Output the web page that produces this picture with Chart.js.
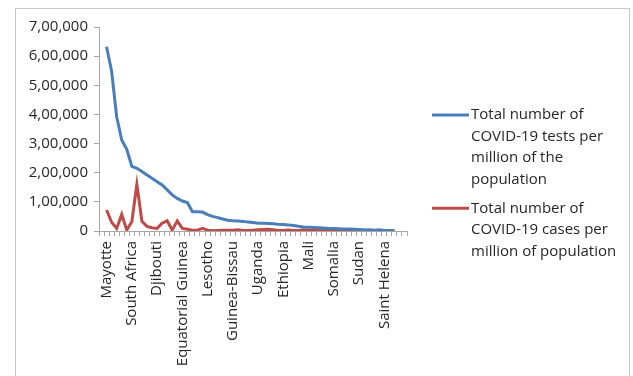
<!DOCTYPE html>
<html>
<head>
<meta charset="utf-8">
<script src="https://cdn.jsdelivr.net/npm/chart.js@4/dist/chart.umd.min.js"></script>
<style>
  html, body { margin: 0; padding: 0; background: #ffffff; overflow: hidden; }
  #wrap { position: relative; width: 633px; height: 376px; overflow: hidden; }
  #frame { position: absolute; left: 15px; top: 8px; width: 615px; height: 380px; border: 1px solid #c8c8c8; box-sizing: border-box; pointer-events: none; }
  canvas { position: absolute; left: 0; top: 0; }
</style>
</head>
<body>
<div id="wrap">
  <canvas id="c" width="633" height="376"></canvas>
  <div id="frame"></div>
</div>
<script>
// ---- data ----
const countries = [
  'Mayotte', 'Réunion', 'Mauritius', 'Botswana', 'Cape Verde',
  'South Africa', 'Seychelles', 'Morocco', 'Rwanda', 'Gabon',
  'Djibouti', 'Libya', 'Tunisia', 'Namibia', 'Eswatini',
  'Equatorial Guinea', 'Zambia', 'Ghana', 'Kenya', 'Sao Tome and Principe',
  'Lesotho', 'Zimbabwe', 'Gambia', 'Senegal', 'Togo',
  'Guinea-Bissau', 'Mauritania', 'Egypt', 'Malawi', 'Comoros',
  'Uganda', 'Burundi', 'Cameroon', 'Angola', 'Mozambique',
  'Ethiopia', "Cote d'Ivoire", 'Liberia', 'Guinea', 'Sierra Leone',
  'Mali', 'Benin', 'Congo', 'Central African Republic', 'Madagascar',
  'Somalia', 'Burkina Faso', 'Nigeria', 'Algeria', 'Eritrea',
  'Sudan', 'Chad', 'Niger', 'Democratic Republic of Congo', 'Tanzania',
  'Saint Helena', 'South Sudan', 'Western Sahara'
];
const testsPerMillion = [
  632000, 548000, 392000, 312000, 280000,
  222000, 215000, 204000, 192000, 181000,
  169000, 158000, 141000, 124000, 112000,
  103000, 98000, 66000, 66000, 65000,
  56000, 50000, 46000, 41000, 37000,
  35000, 34000, 33000, 31000, 29000,
  27000, 27000, 26000, 25000, 23000,
  22000, 21000, 19000, 16000, 14000,
  13000, 12000, 11000, 10000, 9000,
  8500, 8000, 7000, 6500, 6000,
  5000, 4000, 3500, 3000, 2500,
  2000, 1500, 1000
];
const casesPerMillion = [
  72000, 30000, 9000, 57000, 3000,
  32000, 160000, 33000, 16000, 11000,
  9000, 27000, 35000, 3000, 35000,
  9000, 6000, 3000, 3000, 9000,
  3000, 1000, 2000, 3000, 3000,
  3000, 4000, 2000, 2000, 3000,
  4000, 5000, 6000, 4000, 2000,
  2000, 3000, 2000, 2000, 4000,
  3000, 3000, 2000, 4000, 5000,
  3000, 2000, 2000, 3000, 2000,
  2000, 2000, 3000, 2000, 3000,
  2000, 1000, 500
];
const yTicks = [0, 100000, 200000, 300000, 400000, 500000, 600000, 700000];
const seriesNames = [
  ['Total number of', 'COVID-19 tests per', 'million of the', 'population'],
  ['Total number of', 'COVID-19 cases per', 'million of population']
];
const labelEvery = 5;

// ---- helpers ----
function indianFormat(v) {
  if (v === 0) return '0';
  const s = String(Math.round(v));
  const last3 = s.slice(-3);
  let rest = s.slice(0, -3);
  rest = rest.replace(/\B(?=(\d{2})+(?!\d))/g, ',');
  return rest ? rest + ',' + last3 : last3;
}

// one empty category slot before and two after the data, as in the reference axis
const labels = [''].concat(countries, ['', '']);
const blueData = [null].concat(testsPerMillion, [null, null]);
const redData = [null].concat(casesPerMillion, [null, null]);

const BLUE = '#4A7EBB';
const RED = '#BE4B48';
const AXIS = '#a6a6a6';
const TEXT = '#262626';
const FONT = "'Open Sans'";

const legendPlugin = {
  id: 'wrapLegend',
  afterDraw(chart) {
    const ctx = chart.ctx;
    const blocks = [
      { color: BLUE, lines: seriesNames[0], y: 115 },
      { color: RED, lines: seriesNames[1], y: 208.3 }
    ];
    ctx.save();
    ctx.font = '15px ' + FONT;
    ctx.fillStyle = TEXT;
    ctx.textBaseline = 'middle';
    ctx.textAlign = 'left';
    blocks.forEach(b => {
      ctx.strokeStyle = b.color;
      ctx.lineWidth = 3;
      ctx.beginPath();
      ctx.moveTo(432, b.y);
      ctx.lineTo(469, b.y);
      ctx.stroke();
      b.lines.forEach((t, i) => {
        ctx.fillText(t, 471, b.y + i * 21.6);
      });
    });
    ctx.restore();
  }
};

new Chart(document.getElementById('c'), {
  type: 'line',
  data: {
    labels: labels,
    datasets: [
      { label: seriesNames[0].join(' '), data: blueData, borderColor: BLUE, backgroundColor: BLUE,
        borderWidth: 3, pointRadius: 0, tension: 0, spanGaps: false },
      { label: seriesNames[1].join(' '), data: redData, borderColor: RED, backgroundColor: RED,
        borderWidth: 3, pointRadius: 0, tension: 0, spanGaps: false }
    ]
  },
  options: {
    responsive: false,
    animation: false,
    events: [],
    layout: { padding: { top: 27, right: 226, bottom: 0, left: 0 } },
    plugins: { legend: { display: false }, tooltip: { enabled: false } },
    scales: {
      x: {
        type: 'category',
        offset: true,
        afterFit(s) { s.height = 145; },
        grid: { display: true, drawOnChartArea: false, drawTicks: true, tickLength: 5, offset: true, color: AXIS, lineWidth: 1 },
        border: { display: true, color: AXIS, width: 1 },
        ticks: {
          autoSkip: false, maxRotation: 90, minRotation: 90, padding: 5,
          color: TEXT, font: { family: FONT, size: 15 },
          callback(v, i) {
            const k = i - 1;
            if (k >= 0 && k < countries.length && k % labelEvery === 0) return countries[k];
            return '';
          }
        }
      },
      y: {
        min: 0, max: 700000,
        afterFit(s) { s.width = 99; },
        afterBuildTicks(s) { s.ticks = yTicks.map(v => ({ value: v })); },
        grid: { display: true, drawOnChartArea: false, drawTicks: true, tickLength: 5, color: AXIS },
        border: { display: true, color: AXIS, width: 1 },
        ticks: {
          padding: 6, color: TEXT, font: { family: FONT, size: 15 },
          callback(v) { return indianFormat(v); }
        }
      }
    }
  },
  plugins: [legendPlugin]
});
</script>
</body>
</html>
